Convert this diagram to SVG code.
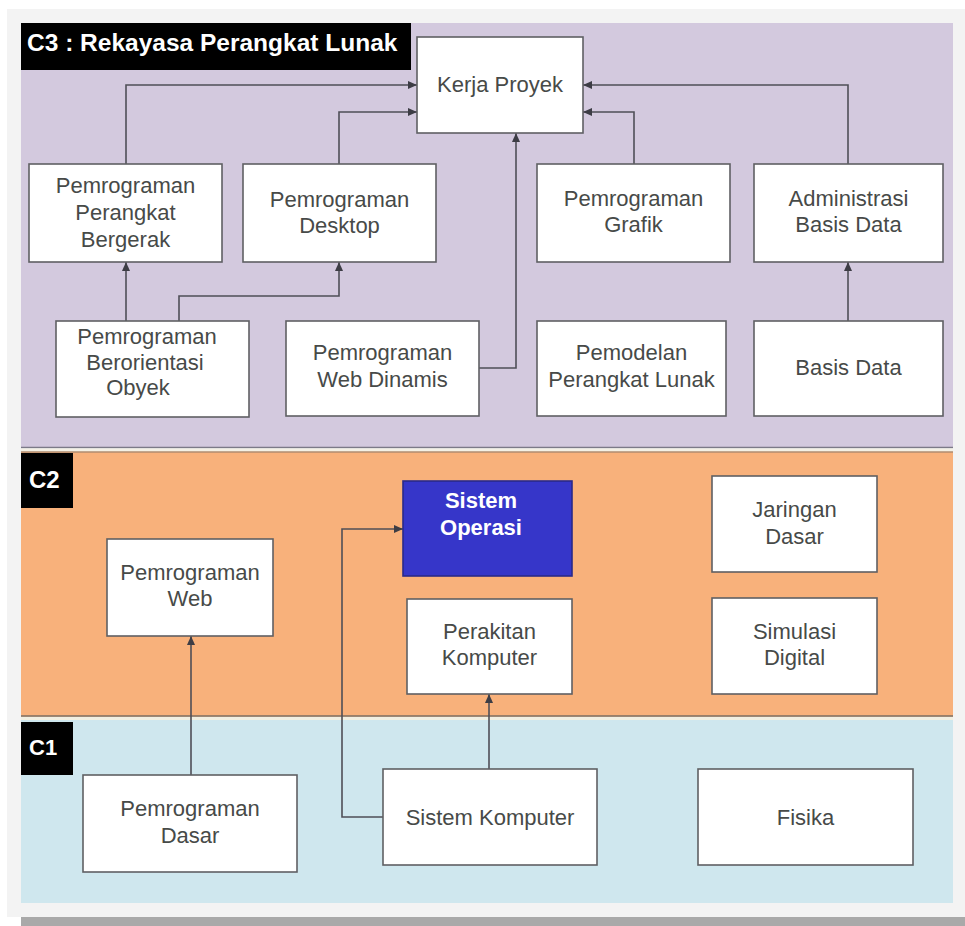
<svg xmlns="http://www.w3.org/2000/svg" width="965" height="926" viewBox="0 0 965 926">
  <style>
    .node rect { fill: #ffffff; stroke: #5f6063; stroke-width: 1.6; }
    .node text { font-family: "Liberation Sans", Arial, sans-serif; font-size: 22px; fill: #474a48; text-anchor: middle; }
    .label text { font-family: "Liberation Sans", Arial, sans-serif; font-weight: bold; fill: #ffffff; }
    .wire { fill: none; stroke: #4f4f57; stroke-width: 1.6; marker-end: url(#arrow); }
  </style>
  <defs>
    <marker id="arrow" markerUnits="userSpaceOnUse" markerWidth="10" markerHeight="10" viewBox="0 0 10 10" refX="9" refY="5" orient="auto">
      <path d="M0,1 L9,5 L0,9 z" fill="#3d3d45"/>
    </marker>
  </defs>

  <!-- page frame -->
  <rect x="0" y="0" width="965" height="926" fill="#ffffff"/>
  <rect x="7" y="9" width="958" height="908" fill="#f3f3f3"/>
  <rect x="21" y="917" width="944" height="9" fill="#a9a9a9"/>

  <!-- layer bands -->
  <g id="band-c3">
    <rect x="21" y="23" width="932" height="425" fill="#d3c9de"/>
    <line x1="21" y1="447.5" x2="953" y2="447.5" stroke="#7c7a88" stroke-width="1.5"/>
  </g>
  <rect x="21" y="448.5" width="932" height="3" fill="#f4f1e6"/>
  <g id="band-c2">
    <rect x="21" y="451.5" width="932" height="265" fill="#f8b17b"/>
    <line x1="21" y1="452" x2="953" y2="452" stroke="#8d7a6a" stroke-width="1.2"/>
    <line x1="21" y1="716" x2="953" y2="716" stroke="#7d6f62" stroke-width="1.5"/>
  </g>
  <rect x="21" y="717" width="932" height="3" fill="#f1efe2"/>
  <g id="band-c1">
    <rect x="21" y="720" width="932" height="183" fill="#cfe7ee"/>
  </g>

  <!-- layer labels -->
  <g class="label" id="label-c3">
    <rect x="21" y="23" width="390" height="47" fill="#000000"/>
    <text x="27" y="51" font-size="24.5">C3 : Rekayasa Perangkat Lunak</text>
  </g>
  <g class="label" id="label-c2">
    <rect x="21" y="453" width="52" height="55" fill="#000000"/>
    <text x="29" y="488" font-size="24">C2</text>
  </g>
  <g class="label" id="label-c1">
    <rect x="21" y="722" width="52" height="53" fill="#000000"/>
    <text x="29" y="755" font-size="22">C1</text>
  </g>

  <!-- connectors -->
  <g id="connectors">
    <path class="wire" d="M126 164 V85 H417"/>
    <path class="wire" d="M339 164 V112 H417"/>
    <path class="wire" d="M634 164 V112 H583"/>
    <path class="wire" d="M848 164 V85 H583"/>
    <path class="wire" d="M479 368 H516 V133"/>
    <path class="wire" d="M126 321 V262"/>
    <path class="wire" d="M179 321 V296 H339 V262"/>
    <path class="wire" d="M848 321 V262"/>
    <path class="wire" d="M191 775 V636"/>
    <path class="wire" d="M383 817 H342 V529 H403"/>
    <path class="wire" d="M489 769 V694"/>
  </g>

  <!-- C3 courses -->
  <g class="node" id="kerja-proyek">
    <rect x="417" y="37" width="166" height="96"/>
    <text x="500" y="92">Kerja Proyek</text>
  </g>
  <g class="node" id="pemrograman-perangkat-bergerak">
    <rect x="29" y="164" width="193" height="98"/>
    <text x="125.5" y="193">Pemrograman</text>
    <text x="125.5" y="220">Perangkat</text>
    <text x="125.5" y="247">Bergerak</text>
  </g>
  <g class="node" id="pemrograman-desktop">
    <rect x="243" y="164" width="193" height="98"/>
    <text x="339.5" y="207">Pemrograman</text>
    <text x="339.5" y="233">Desktop</text>
  </g>
  <g class="node" id="pemrograman-grafik">
    <rect x="537" y="164" width="193" height="98"/>
    <text x="633.5" y="206">Pemrograman</text>
    <text x="633.5" y="232">Grafik</text>
  </g>
  <g class="node" id="administrasi-basis-data">
    <rect x="754" y="164" width="189" height="98"/>
    <text x="848.5" y="206">Administrasi</text>
    <text x="848.5" y="232">Basis Data</text>
  </g>
  <g class="node" id="pemrograman-berorientasi-obyek">
    <rect x="56" y="321" width="193" height="96"/>
    <text x="147" y="344">Pemrograman</text>
    <text x="145" y="370">Berorientasi</text>
    <text x="138" y="395">Obyek</text>
  </g>
  <g class="node" id="pemrograman-web-dinamis">
    <rect x="286" y="321" width="193" height="95"/>
    <text x="382.5" y="360">Pemrograman</text>
    <text x="382.5" y="387">Web Dinamis</text>
  </g>
  <g class="node" id="pemodelan-perangkat-lunak">
    <rect x="537" y="321" width="189" height="95"/>
    <text x="631.5" y="360">Pemodelan</text>
    <text x="631.5" y="387">Perangkat Lunak</text>
  </g>
  <g class="node" id="basis-data">
    <rect x="754" y="321" width="189" height="95"/>
    <text x="848.5" y="375">Basis Data</text>
  </g>

  <!-- C2 courses -->
  <g class="node" id="pemrograman-web">
    <rect x="107" y="539" width="166" height="97"/>
    <text x="190" y="580">Pemrograman</text>
    <text x="190" y="606">Web</text>
  </g>
  <g class="node" id="sistem-operasi">
    <rect x="403" y="481" width="169" height="95" style="fill:#3636c9;stroke:#2a2a8a"/>
    <text x="481" y="508" style="fill:#ffffff;font-weight:bold">Sistem</text>
    <text x="481" y="535" style="fill:#ffffff;font-weight:bold">Operasi</text>
  </g>
  <g class="node" id="perakitan-komputer">
    <rect x="407" y="599" width="165" height="95"/>
    <text x="489.5" y="639">Perakitan</text>
    <text x="489.5" y="665">Komputer</text>
  </g>
  <g class="node" id="jaringan-dasar">
    <rect x="712" y="476" width="165" height="96"/>
    <text x="794.5" y="517">Jaringan</text>
    <text x="794.5" y="544">Dasar</text>
  </g>
  <g class="node" id="simulasi-digital">
    <rect x="712" y="598" width="165" height="96"/>
    <text x="794.5" y="639">Simulasi</text>
    <text x="794.5" y="665">Digital</text>
  </g>

  <!-- C1 courses -->
  <g class="node" id="pemrograman-dasar">
    <rect x="83" y="775" width="214" height="97"/>
    <text x="190" y="816">Pemrograman</text>
    <text x="190" y="843">Dasar</text>
  </g>
  <g class="node" id="sistem-komputer">
    <rect x="383" y="769" width="214" height="96"/>
    <text x="490" y="825">Sistem Komputer</text>
  </g>
  <g class="node" id="fisika">
    <rect x="698" y="769" width="215" height="96"/>
    <text x="805.5" y="825">Fisika</text>
  </g>
</svg>
